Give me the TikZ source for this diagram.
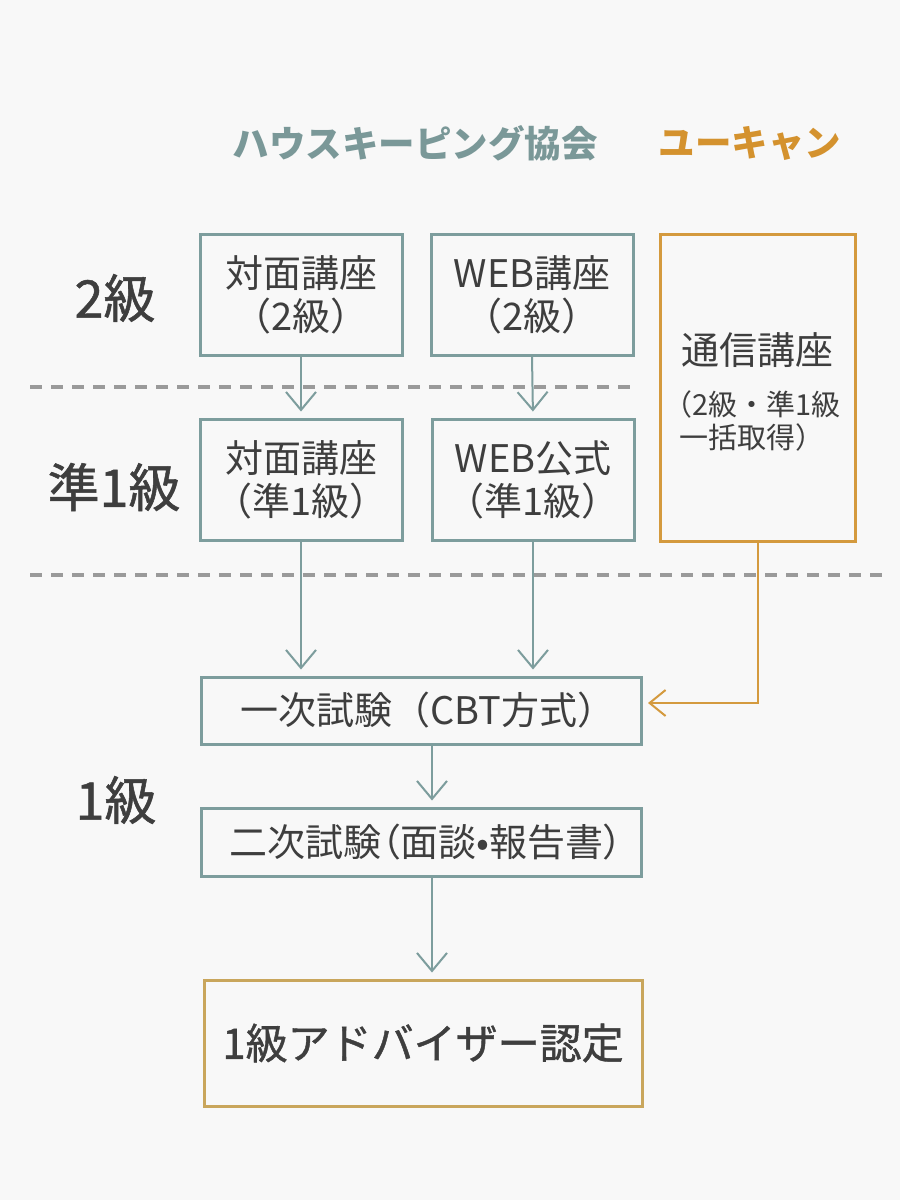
\documentclass[tikz,border=0pt]{standalone}
\usepackage{fontspec}
\setmainfont{Noto Sans CJK JP}
\newfontfamily\jpmed{Noto Sans CJK JP}[FakeBold=1]
\newfontfamily\jppalt{Noto Sans CJK JP}[RawFeature=+palt]
\usetikzlibrary{arrows.meta}
\definecolor{bgc}{HTML}{F8F8F8}
\definecolor{teal}{HTML}{7D9D9D}
\definecolor{tealtxt}{HTML}{7A9898}
\definecolor{gold}{HTML}{D49A3E}
\definecolor{goldtxt}{HTML}{D4922E}
\definecolor{goldbox}{HTML}{C9A65C}
\definecolor{txt}{HTML}{3E3E3E}
\definecolor{dash}{HTML}{9A9A9A}
\tikzset{
  tbox/.style={draw=teal, line width=3pt, fill=bgc, inner sep=0pt, align=center, text=txt, font=\fontsize{38}{43}\selectfont},
  gbox/.style={tbox, draw=gold},
  fbox/.style={tbox, draw=goldbox},
  lvl/.style={text=txt, inner sep=0pt, font=\jpmed\fontsize{52}{56}\selectfont},
  hdr/.style={inner sep=0pt, font=\fontsize{36.5}{40}\selectfont\bfseries},
  tarrow/.style={draw=teal, line width=2pt, -{Straight Barb[length=18pt,width=30pt,line width=2pt]}, shorten >=6pt},
  garrow/.style={draw=gold, line width=2pt, -{Straight Barb[length=16pt,width=26pt,line width=2pt]}, shorten >=7pt},
  sep/.style={draw=dash, line width=4pt, dash pattern=on 12pt off 9pt},
}
\begin{document}
\begin{tikzpicture}[x=1pt,y=-1pt]
\fill[bgc] (0,0) rectangle (900,1200);
\useasboundingbox (0,0) rectangle (900,1200);

% headers
\node[hdr, text=tealtxt] (h1) at (415,143) {ハウスキーピング協会};
\node[hdr, text=goldtxt] (h2) at (750,143) {ユーキャン};

% level labels
\node[lvl] (l2) at (115,298) {2級};
\node[lvl] (l15) at (114,487) {準1級};
\node[lvl] (l1) at (116,800) {1級};

% separators
\coordinate (s1a) at (30,387);
\coordinate (s1b) at (636,387);
\coordinate (s2a) at (30,575);
\coordinate (s2b) at (882,575);
\draw[sep] (s1a) -- (s1b);
\draw[sep] (s2a) -- (s2b);

% boxes
\node[tbox, minimum width=202pt, minimum height=121pt] (a1) at (301,294.5) {対面講座\\（2級）};
\node[tbox, minimum width=202pt, minimum height=121pt] (b1) at (532,294.5) {WEB講座\\（2級）};
\node[tbox, minimum width=202pt, minimum height=121pt] (a2) at (301,479.5) {対面講座\\（準1級）};
\node[tbox, minimum width=202pt, minimum height=121pt] (b2) at (533,479.5) {WEB公式\\（準1級）};
\node[gbox, minimum width=195pt, minimum height=307pt] (c) at (757.5,387.5) {};
\node[text=txt, inner sep=0pt, font=\fontsize{38}{40}\selectfont] (ct) at (757.5,350) {通信講座};
\node[text=txt, inner sep=0pt, align=center, font=\fontsize{29}{33}\selectfont] (cs) at (752,421) {（2級・準1級\\一括取得）};

\node[tbox, minimum width=440pt, minimum height=67pt] (d) at (421,710.5) {\hspace*{14pt}一次試験（CBT方式）};
\node[tbox, minimum width=440pt, minimum height=68pt, font=\jppalt\fontsize{38}{43}\selectfont] (e) at (421,842) {\hspace*{10pt}二次試験（面談•報告書）};
\node[fbox, minimum width=438pt, minimum height=126pt, font=\jpmed\fontsize{42}{46}\selectfont] (f) at (423,1043) {1級アドバイザー認定};

% connectors
\coordinate (mx) at (432,0);
\draw[tarrow] (a1.south) -- (a2.north);
\draw[tarrow] (b1.south) -- (b2.north);
\draw[tarrow] (a2.south) -- (a2.south |- d.north);
\draw[tarrow] (b2.south) -- (b2.south |- d.north);
\draw[tarrow] (mx |- d.south) -- (mx |- e.north);
\draw[tarrow] (mx |- e.south) -- (mx |- f.north);
\coordinate (din) at (641,703);
\draw[garrow] (c.south) |- (din);
\end{tikzpicture}
\end{document}
